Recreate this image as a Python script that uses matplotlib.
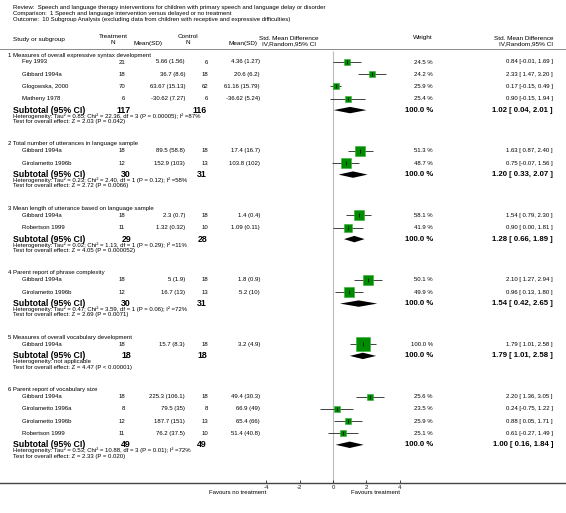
import numpy as np
import matplotlib.pyplot as plt
import matplotlib.transforms as mtransforms

plt.rcParams['font.family'] = ['Liberation Sans', 'DejaVu Sans']

# ---- data ----
review = 'Review:  Speech and language therapy interventions for children with primary speech and language delay or disorder'
comparison = 'Comparison:  1 Speech and language intervention versus delayed or no treatment'
outcome = 'Outcome:  10 Subgroup Analysis (excluding data from children with receptive and expressive difficulties)'

groups = ['1 Measures of overall expressive syntax development',
          '2 Total number of utterances in language sample',
          '3 Mean length of utterance based on language sample',
          '4 Parent report of phrase complexity',
          '5 Measures of overall vocabulary development',
          '6 Parent report of vocabulary size']
group_sizes = [4, 2, 2, 2, 1, 4]

studies = ['Fey 1993', 'Gibbard 1994a', 'Glogowska, 2000', 'Matheny 1978',
           'Gibbard 1994a', 'Girolametto 1996b',
           'Gibbard 1994a', 'Robertson 1999',
           'Gibbard 1994a', 'Girolametto 1996b',
           'Gibbard 1994a',
           'Gibbard 1994a', 'Girolametto 1996a', 'Girolametto 1996b', 'Robertson 1999']
trt_n = [21, 18, 70, 6, 18, 12, 18, 11, 18, 12, 18, 18, 8, 12, 11]
trt_mean_sd = ['5.66 (1.56)', '36.7 (8.6)', '63.67 (15.13)', '-30.62 (7.27)',
               '89.5 (58.8)', '152.9 (103)',
               '2.3 (0.7)', '1.32 (0.32)',
               '5 (1.9)', '16.7 (13)',
               '15.7 (8.3)',
               '225.3 (106.1)', '79.5 (35)', '187.7 (151)', '76.2 (37.5)']
ctl_n = [6, 18, 62, 6, 18, 13, 18, 10, 18, 13, 18, 18, 8, 13, 10]
ctl_mean_sd = ['4.36 (1.27)', '20.6 (6.2)', '61.16 (15.79)', '-36.62 (5.24)',
               '17.4 (16.7)', '103.8 (102)',
               '1.4 (0.4)', '1.09 (0.11)',
               '1.8 (0.9)', '5.2 (10)',
               '3.2 (4.9)',
               '49.4 (30.3)', '66.9 (49)', '65.4 (66)', '51.4 (40.8)']
weights = [24.5, 24.2, 25.9, 25.4, 51.3, 48.7, 58.1, 41.9, 50.1, 49.9, 100.0,
           25.6, 23.5, 25.9, 25.1]
smd = [0.84, 2.33, 0.17, 0.90, 1.63, 0.75, 1.54, 0.90, 2.10, 0.96, 1.79,
       2.20, 0.24, 0.88, 0.61]
ci_lo = [-0.01, 1.47, -0.15, -0.15, 0.87, -0.07, 0.79, 0.00, 1.27, 0.13, 1.01,
         1.36, -0.75, 0.05, -0.27]
ci_hi = [1.69, 3.20, 0.49, 1.94, 2.40, 1.56, 2.30, 1.81, 2.94, 1.80, 2.58,
         3.05, 1.22, 1.71, 1.49]

sub_trt_n = [117, 30, 29, 30, 18, 49]
sub_ctl_n = [116, 31, 28, 31, 18, 49]
sub_smd = [1.02, 1.20, 1.28, 1.54, 1.79, 1.00]
sub_lo = [0.04, 0.33, 0.66, 0.42, 1.01, 0.16]
sub_hi = [2.01, 2.07, 1.89, 2.65, 2.58, 1.84]
heterogeneity = ['Heterogeneity: Tau\u00b2 = 0.85; Chi\u00b2 = 22.36, df = 3 (P = 0.00005); I\u00b2 =87%',
                 'Heterogeneity: Tau\u00b2 = 0.23; Chi\u00b2 = 2.40, df = 1 (P = 0.12); I\u00b2 =58%',
                 'Heterogeneity: Tau\u00b2 = 0.02; Chi\u00b2 = 1.13, df = 1 (P = 0.29); I\u00b2 =11%',
                 'Heterogeneity: Tau\u00b2 = 0.47; Chi\u00b2 = 3.59, df = 1 (P = 0.06); I\u00b2 =72%',
                 'Heterogeneity: not applicable',
                 'Heterogeneity: Tau\u00b2 = 0.53; Chi\u00b2 = 10.88, df = 3 (P = 0.01); I\u00b2 =72%']
overall_test = ['Test for overall effect: Z = 2.03 (P = 0.042)',
                'Test for overall effect: Z = 2.72 (P = 0.0066)',
                'Test for overall effect: Z = 4.05 (P = 0.000052)',
                'Test for overall effect: Z = 2.69 (P = 0.0071)',
                'Test for overall effect: Z = 4.47 (P < 0.00001)',
                'Test for overall effect: Z = 2.33 (P = 0.020)']
xticks = [-4, -2, 0, 2, 4]
favours_left = 'Favours no treatment'
favours_right = 'Favours treatment'

# ---- layout (pixels) ----
W, H = 566, 513
axis_y = 483
zero_px, unit_px = 333, 16.7

fig = plt.figure(figsize=(W / 100, H / 100), dpi=100)
ax = fig.add_axes([0, (H - axis_y) / H, 1, axis_y / H])
ax.set_ylim(axis_y, 0)
ax.set_xlim(-zero_px / unit_px, (W - zero_px) / unit_px)
T = mtransforms.blended_transform_factory(ax.transAxes, ax.transData)

fs = 4.3


def txt(px, y, s, ha='left', size=fs, **kw):
    ax.text(px / W, y, s, transform=T, ha=ha, va='center', fontsize=size, **kw)


def ci_str(e, lo, hi):
    return f'{e:.2f} [{lo:5.2f}, {hi:.2f} ]'


# header
txt(13, 8, review)
txt(13, 14, comparison)
txt(13, 20, outcome)
txt(13, 39, 'Study or subgroup', size=4.6)
txt(113, 37, 'Treatment', ha='center', size=4.6)
txt(113, 43, 'N', ha='center', size=4.6)
txt(148, 43, 'Mean(SD)', ha='center', size=4.6)
txt(188, 37, 'Control', ha='center', size=4.6)
txt(188, 43, 'N', ha='center', size=4.6)
txt(243, 43, 'Mean(SD)', ha='center', size=4.6)
txt(289, 38, 'Std. Mean Difference', ha='center', size=4.6)
txt(289, 44, 'IV,Random,95% CI', ha='center', size=4.6)
txt(433, 38, 'Weight', ha='right', size=4.6)
txt(553, 38, 'Std. Mean Difference', ha='right', size=4.6)
txt(553, 44, 'IV,Random,95% CI', ha='right', size=4.6)
ax.axhline(49, color='#777777', lw=0.6)

ax.vlines(0, 51, axis_y, color='#bbbbbb', lw=0.8, zorder=1)

y = 55
i = 0
for g in range(len(groups)):
    txt(8, y, groups[g])
    y += 7
    for k in range(group_sizes[g]):
        if k > 0:
            y += 12.2
        txt(22, y, studies[i])
        txt(125, y, str(trt_n[i]), ha='right')
        txt(185, y, trt_mean_sd[i], ha='right')
        txt(208, y, str(ctl_n[i]), ha='right')
        txt(260, y, ctl_mean_sd[i], ha='right')
        txt(433, y, f'{weights[i]:.1f} %', ha='right')
        txt(553, y, ci_str(smd[i], ci_lo[i], ci_hi[i]), ha='right')
        ax.hlines(y, ci_lo[i], ci_hi[i], color='#222222', lw=0.6, zorder=2)
        ax.plot(smd[i], y, 's', color='#008c00', mec='#33b033', mew=0.4,
                markersize=0.94 * np.sqrt(weights[i]), zorder=3)
        ax.plot(smd[i], y, '|', color='black', markersize=2.5, mew=0.5, zorder=4)
        i += 1
    y += 11.5
    txt(13, y, 'Subtotal (95% CI)', size=6.3, fontweight='bold')
    txt(131, y, str(sub_trt_n[g]), ha='right', size=6.3, fontweight='bold')
    txt(207, y, str(sub_ctl_n[g]), ha='right', size=6.3, fontweight='bold')
    txt(433, y, '100.0 %', ha='right', size=5.6, fontweight='bold')
    txt(553, y, ci_str(sub_smd[g], sub_lo[g], sub_hi[g]), ha='right',
        size=5.6, fontweight='bold')
    ax.fill([sub_lo[g], sub_smd[g], sub_hi[g], sub_smd[g]],
            [y, y - 3.2, y, y + 3.2], color='black', lw=0, zorder=3)
    y += 5.8
    txt(13, y, heterogeneity[g], size=4.3)
    y += 5.5
    txt(13, y, overall_test[g], size=4.3)
    y += 22.5

# axis
for s in ['top', 'left', 'right']:
    ax.spines[s].set_visible(False)
ax.spines['bottom'].set_color('#444444')
ax.spines['bottom'].set_linewidth(1.0)
ax.set_yticks([])
ax.set_xticks(xticks)
ax.set_xticklabels([str(t) for t in xticks])
ax.tick_params(axis='x', direction='in', length=2.5, width=0.6, labelsize=fs,
               pad=1.5, colors='#222222')
txt(zero_px + xticks[0] * unit_px, 493, favours_left, ha='right')
txt(zero_px + xticks[-1] * unit_px, 493, favours_right, ha='right')

fig.savefig('out.png', dpi=100)
